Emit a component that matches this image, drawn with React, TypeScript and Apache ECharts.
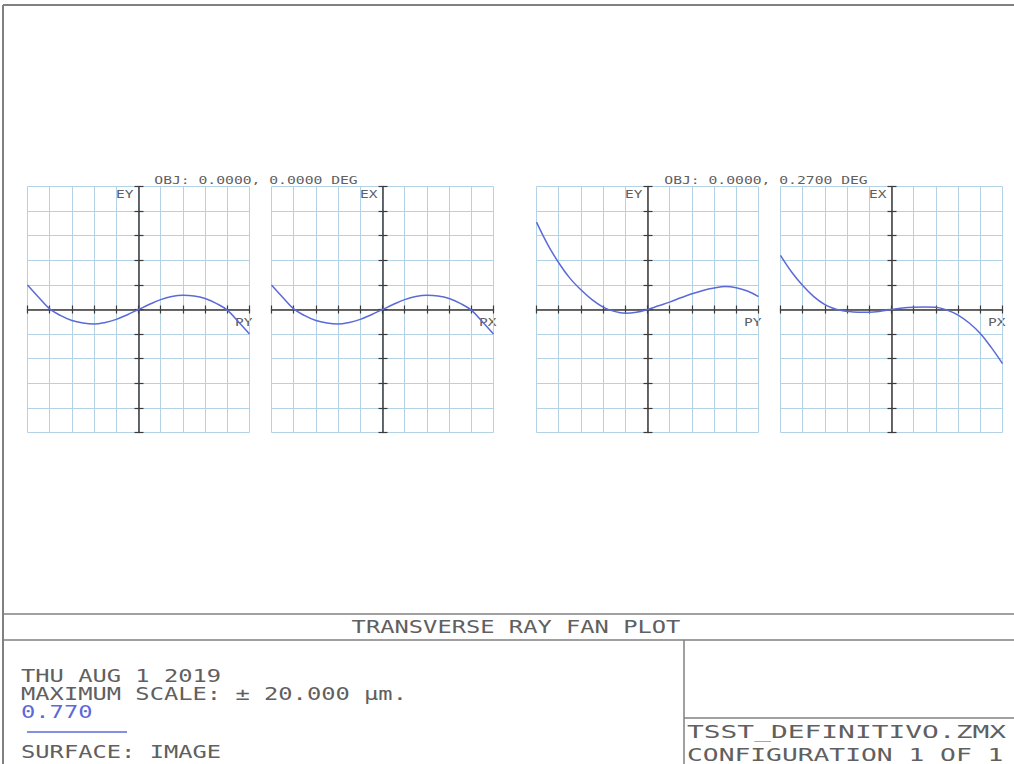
import React, { useEffect, useRef } from "react";
import * as echarts from "echarts";

// Normalised pupil coordinate (PY / PX)
const pupil = [-1, -0.9, -0.8, -0.7, -0.6, -0.5, -0.4, -0.3, -0.2, -0.1, 0, 0.1, 0.2, 0.3, 0.4, 0.5, 0.6, 0.7, 0.8, 0.9, 1];

// Transverse ray error in micrometres, field 0.0000 deg
const eyField0 = [4.0, 2.0, 0.1, -1.0, -1.8, -2.2, -2.35, -2.1, -1.6, -0.85, 0, 0.85, 1.6, 2.1, 2.3, 2.2, 1.8, 1.0, -0.1, -2.0, -4.0];
const exField0 = [4.0, 2.0, 0.1, -1.0, -1.8, -2.2, -2.35, -2.1, -1.6, -0.85, 0, 0.85, 1.6, 2.1, 2.3, 2.2, 1.8, 1.0, -0.1, -2.0, -4.0];

// Transverse ray error in micrometres, field 0.2700 deg
const eyField27 = [14.2, 10.6, 7.6, 5.1, 3.2, 1.6, 0.4, -0.3, -0.6, -0.45, 0, 0.6, 1.2, 1.9, 2.55, 3.1, 3.5, 3.75, 3.55, 3.0, 2.1];
const exField27 = [8.8, 6.1, 3.9, 2.1, 0.8, 0.05, -0.3, -0.45, -0.45, -0.3, 0, 0.25, 0.38, 0.42, 0.35, -0.1, -0.9, -2.2, -3.9, -6.2, -8.8];

// Panel definitions: vertical-axis name, horizontal-axis name, values
const panelYNames = ["EY", "EX", "EY", "EX"];
const panelXNames = ["PY", "PX", "PY", "PX"];
const panelValues = [eyField0, exField0, eyField27, exField27];

const fieldTitles = ["OBJ: 0.0000, 0.0000 DEG", "OBJ: 0.0000, 0.2700 DEG"];

const maxScale = 20;
const scaleStep = 4;

const infoLines = ["THU AUG 1 2019", "MAXIMUM SCALE: \u00b1 20.000 \u00b5m."];
const wavelengthLabel = "0.770";
const surfaceLabel = "SURFACE: IMAGE";
const plotTitle = "TRANSVERSE RAY FAN PLOT";
const fileLines = ["TSST_DEFINITIVO.ZMX", "CONFIGURATION 1 OF 1"];

const FONT = "'DejaVu Sans Mono', 'Liberation Mono', monospace";
const TEXT_COLOR = "#606060";
const FRAME_COLOR = "#808080";
const GRID_COLOR = "#b4d2e6";
const AXIS_COLOR = "#3a3a3a";
const CURVE_COLOR = "#5b6ad8";

const GRID_LEFTS = [27.5, 271.5, 536.5, 780.5];
const GRID_TOP = 186.5;
const GRID_W = 222;
const GRID_H = 246;

function label(
  text: string,
  x: number,
  y: number,
  size: number,
  sx: number,
  align: string,
  color: string = TEXT_COLOR
) {
  return {
    type: "text",
    x,
    y,
    scaleX: sx,
    scaleY: 1,
    silent: true,
    style: {
      text,
      x: 0,
      y: 0,
      fill: color,
      font: `${size}px ${FONT}`,
      align,
      verticalAlign: "middle",
    },
  };
}

function frameLine(x1: number, y1: number, x2: number, y2: number, w = 1.5, color = FRAME_COLOR) {
  return {
    type: "line",
    silent: true,
    shape: { x1, y1, x2, y2 },
    style: { stroke: color, lineWidth: w },
  };
}

export default function App() {
  const ref = useRef<HTMLDivElement>(null);

  useEffect(() => {
    if (!ref.current) return;
    const chart = echarts.init(ref.current, undefined, { renderer: "svg" });

    const grids: any[] = [];
    const xAxes: any[] = [];
    const yAxes: any[] = [];
    const series: any[] = [];
    const graphics: any[] = [];

    GRID_LEFTS.forEach((left, i) => {
      grids.push({ left, top: GRID_TOP, width: GRID_W, height: GRID_H, containLabel: false });

      const xBase = {
        type: "value",
        gridIndex: i,
        min: -1,
        max: 1,
        interval: 0.2,
        axisLabel: { show: false },
        axisLine: { onZero: true, lineStyle: { color: AXIS_COLOR, width: 1.5 } },
        axisTick: { show: true, length: 4, lineStyle: { color: AXIS_COLOR, width: 1.2 } },
      };
      const yBase = {
        type: "value",
        gridIndex: i,
        min: -maxScale,
        max: maxScale,
        interval: scaleStep,
        axisLabel: { show: false },
        axisLine: { onZero: true, lineStyle: { color: AXIS_COLOR, width: 1.5 } },
        axisTick: { show: true, length: 4, lineStyle: { color: AXIS_COLOR, width: 1.2 } },
      };

      // Primary axes carry the grid lines; the twins add ticks on the other side
      xAxes.push({
        ...xBase,
        position: "bottom",
        splitLine: { show: true, lineStyle: { color: GRID_COLOR, width: 1 } },
      });
      xAxes.push({
        ...xBase,
        position: "top",
        splitLine: { show: false },
        axisLine: { ...xBase.axisLine, show: false },
      });
      yAxes.push({
        ...yBase,
        position: "left",
        splitLine: { show: true, lineStyle: { color: GRID_COLOR, width: 1 } },
      });
      yAxes.push({
        ...yBase,
        position: "right",
        splitLine: { show: false },
        axisLine: { ...yBase.axisLine, show: false },
        axisTick: { ...yBase.axisTick, length: 5 },
      });

      series.push({
        type: "line",
        xAxisIndex: i * 2,
        yAxisIndex: i * 2,
        data: pupil.map((p, k) => [p, panelValues[i][k]]),
        smooth: 0.4,
        showSymbol: false,
        lineStyle: { color: CURVE_COLOR, width: 1.5 },
        silent: true,
      });

      const axisX = left + GRID_W / 2;
      graphics.push(label(panelYNames[i], axisX - 5, GRID_TOP + 8, 10, 1.45, "right"));
      graphics.push(label(panelXNames[i], left + GRID_W + 3, 322.5, 10, 1.45, "right"));
    });

    // Field titles centred over each pair of panels
    graphics.push(label(fieldTitles[0], 256, 180.5, 10, 1.47, "center"));
    graphics.push(label(fieldTitles[1], 766, 180.5, 10, 1.47, "center"));

    // Frame and title block
    graphics.push(frameLine(3, 5, 1014, 5, 2));
    graphics.push(frameLine(3, 5, 3, 764, 2));
    graphics.push(frameLine(3, 614, 1014, 614));
    graphics.push(frameLine(3, 640, 1014, 640));
    graphics.push(frameLine(684, 640, 684, 764));
    graphics.push(frameLine(684, 718, 1014, 718));

    graphics.push(label(plotTitle, 516, 627, 18, 1.32, "center"));
    graphics.push(label(infoLines[0], 21, 675.5, 18, 1.32, "left"));
    graphics.push(label(infoLines[1], 21, 694, 18, 1.32, "left"));
    graphics.push(label(wavelengthLabel, 21, 712, 18, 1.32, "left", CURVE_COLOR));
    graphics.push(frameLine(27, 732, 127, 732, 1.5, CURVE_COLOR));
    graphics.push(label(surfaceLabel, 21, 751.5, 18, 1.32, "left"));
    graphics.push(label(fileLines[0], 687, 732, 18, 1.55, "left"));
    graphics.push(label(fileLines[1], 687, 755, 18, 1.46, "left"));

    chart.setOption({
      animation: false,
      backgroundColor: "#ffffff",
      grid: grids,
      xAxis: xAxes,
      yAxis: yAxes,
      series,
      graphic: graphics,
    });

    return () => chart.dispose();
  }, []);

  return (
    <div
      ref={ref}
      style={{ position: "fixed", left: 0, top: 0, width: 1014, height: 764 }}
    />
  );
}
